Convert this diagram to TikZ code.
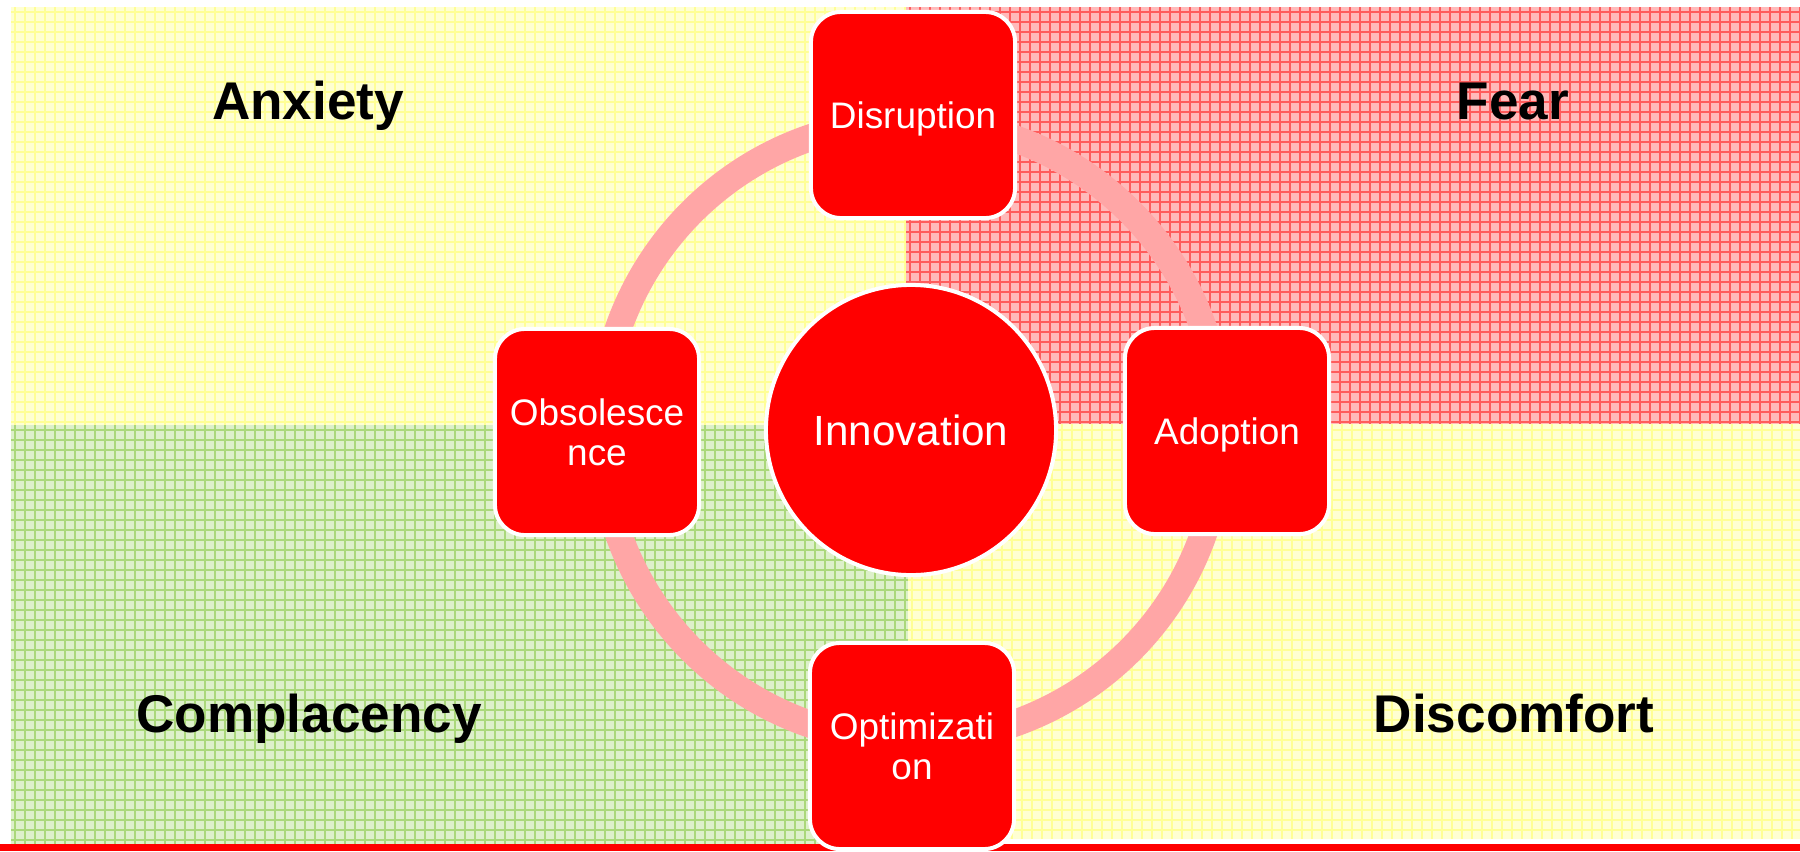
\documentclass[tikz,border=0pt]{standalone}
\usepackage{fontspec}
\setmainfont{Liberation Sans}
\definecolor{qyel}{HTML}{FFFFD2}
\definecolor{qyelL}{HTML}{FFFF96}
\definecolor{qred}{HTML}{FFBABA}
\definecolor{qredL}{HTML}{FF5C5C}
\definecolor{qgrn}{HTML}{DDF0CA}
\definecolor{qgrnL}{HTML}{AAD87A}
\definecolor{ringc}{HTML}{FFA6A6}
\definecolor{boxred}{HTML}{FF0000}
\tikzset{
  stepbox/.style={draw=white, line width=0.04cm, fill=boxred, rounded corners=0.3cm,
    minimum width=2.04cm, minimum height=2.06cm, inner sep=0pt, text=white,
    align=center, font=\fontsize{10.5}{11.4}\selectfont},
  onelinebox/.style={stepbox, text depth=0pt},
  hub/.style={circle, draw=white, line width=0.04cm, fill=boxred, minimum size=2.9cm,
    inner sep=0pt, text=white, font=\fontsize{12}{14}\selectfont},
  quadlabel/.style={font=\bfseries\fontsize{15.1}{18}\selectfont, anchor=base, inner sep=0pt},
  gridln/.style={line width=0.011cm}
}
\begin{document}
\begin{tikzpicture}[x=0.01cm,y=-0.01cm]
\useasboundingbox (0,0) rectangle (1800,851);
\fill[white] (0,0) rectangle (1800,851);
% quadrants
\begin{scope}
  \clip (11,7) rectangle (906,425);
  \fill[qyel] (11,7) rectangle (906,425);
  \foreach \x in {15,25,...,905} \draw[qyelL,gridln] (\x,7) -- (\x,425);
  \foreach \y in {12,22,...,425} \draw[qyelL,gridln] (11,\y) -- (906,\y);
\end{scope}
\begin{scope}
  \clip (906,7) rectangle (1800,424);
  \fill[qred] (906,7) rectangle (1800,424);
  \foreach \x in {910,920,...,1800} \draw[qredL,gridln] (\x,7) -- (\x,424);
  \foreach \y in {12,22,...,424} \draw[qredL,gridln] (906,\y) -- (1800,\y);
\end{scope}
\begin{scope}
  \clip (11,425) rectangle (908,844);
  \fill[qgrn] (11,425) rectangle (908,844);
  \foreach \x in {15,25,...,905} \draw[qgrnL,gridln] (\x,425) -- (\x,844);
  \foreach \y in {430,440,...,844} \draw[qgrnL,gridln] (11,\y) -- (908,\y);
\end{scope}
\begin{scope}
  \clip (908,424) rectangle (1800,839);
  \fill[qyel] (908,424) rectangle (1800,839);
  \foreach \x in {912,922,...,1800} \draw[qyelL,gridln] (\x,424) -- (\x,839);
  \foreach \y in {430,440,...,839} \draw[qyelL,gridln] (908,\y) -- (1800,\y);
\end{scope}
% bottom red bar
\fill[boxred] (0,844) rectangle (1800,851);
% labels
\node[quadlabel] (anx) at (308,119) {Anxiety};
\node[quadlabel] (fear) at (1513,119) {Fear};
\node[quadlabel] (comp) at (309,732) {Complacency};
\node[quadlabel] (disc) at (1514,732) {Discomfort};
% ring
\coordinate (c) at (911,431);
\draw[ringc, line width=0.27cm] (c) circle[radius=310];
% hub and steps
\node[hub] (innov) at (911,430) {Innovation};
\node[onelinebox] (disr) at (913,115) {Disruption};
\node[onelinebox] (adop) at (1227,431) {Adoption};
\node[stepbox] (opti) at (912,746) {Optimizati\\on};
\node[stepbox] (obso) at (597,432) {Obsolesce\\nce};
\end{tikzpicture}
\end{document}
